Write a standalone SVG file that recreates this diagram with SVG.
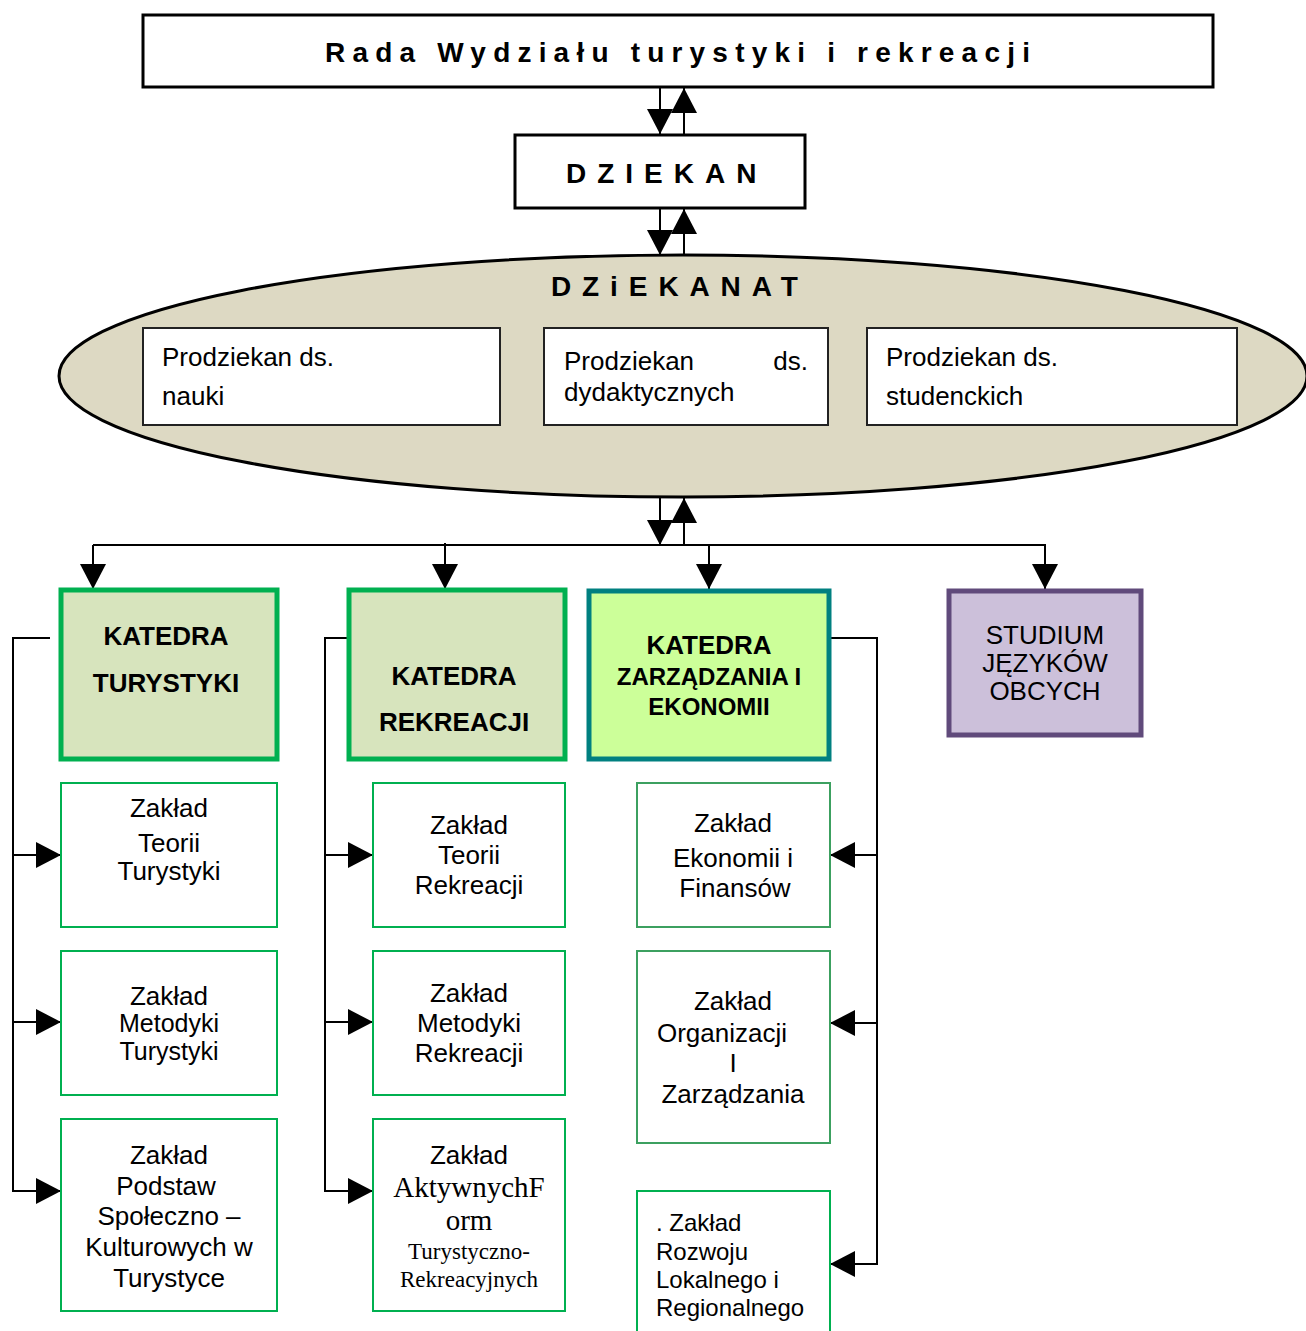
<svg xmlns="http://www.w3.org/2000/svg" width="1306" height="1331" viewBox="0 0 1306 1331">
<style>
text{font-family:"Liberation Sans",Arial,sans-serif;fill:#000}
.title{font-weight:bold;font-size:28px}
.pd{font-size:26px}
.kat{font-weight:bold;font-size:26px;text-anchor:middle}
.z{font-size:26px;text-anchor:middle}
.zb{fill:#fff;stroke:#00B050;stroke-width:2}
.conn{fill:none;stroke:#000;stroke-width:2}
.serif{font-family:"Liberation Serif","Times New Roman",serif}
</style>
<defs>
<marker id="ah" markerUnits="userSpaceOnUse" markerWidth="26" markerHeight="26" refX="25" refY="13" orient="auto">
<path d="M0,0 L25,13 L0,26 z" fill="#000"/>
</marker>
</defs>
<rect width="1306" height="1331" fill="#fff"/>

<g id="connectors" class="conn">
<line x1="660" y1="87" x2="660" y2="134" marker-end="url(#ah)"/>
<line x1="684" y1="135" x2="684" y2="88" marker-end="url(#ah)"/>
<line x1="660" y1="208" x2="660" y2="255" marker-end="url(#ah)"/>
<line x1="684" y1="256" x2="684" y2="209" marker-end="url(#ah)"/>
<line x1="660" y1="497" x2="660" y2="545" marker-end="url(#ah)"/>
<line x1="684" y1="545" x2="684" y2="498" marker-end="url(#ah)"/>
<path d="M93,545 H1045 V589" marker-end="url(#ah)"/>
<path d="M93,545 V589" marker-end="url(#ah)"/>
<path d="M445,543 V589" marker-end="url(#ah)"/>
<path d="M709,545 V589" marker-end="url(#ah)"/>
<path d="M50,638 H13 V1191 H61" marker-end="url(#ah)"/>
<line x1="13" y1="855" x2="61" y2="855" marker-end="url(#ah)"/>
<line x1="13" y1="1022" x2="61" y2="1022" marker-end="url(#ah)"/>
<path d="M348,638 H325 V1191 H373" marker-end="url(#ah)"/>
<line x1="325" y1="855" x2="373" y2="855" marker-end="url(#ah)"/>
<line x1="325" y1="1022" x2="373" y2="1022" marker-end="url(#ah)"/>
<path d="M830,638 H877 V1264 H830" marker-end="url(#ah)"/>
<line x1="877" y1="855" x2="830" y2="855" marker-end="url(#ah)"/>
<line x1="877" y1="1023" x2="830" y2="1023" marker-end="url(#ah)"/>
</g>

<g id="rada">
<rect x="143" y="15" width="1070" height="72" fill="#fff" stroke="#000" stroke-width="3"/>
<text class="title" x="325" y="62" letter-spacing="7.2">Rada Wydziału turystyki i rekreacji</text>
</g>

<g id="dziekan">
<rect x="515" y="135" width="290" height="73" fill="#fff" stroke="#000" stroke-width="3"/>
<text class="title" x="566" y="183" letter-spacing="11">DZIEKAN</text>
</g>

<g id="dziekanat">
<ellipse cx="683" cy="376" rx="624" ry="121" fill="#DDD9C3" stroke="#000" stroke-width="3"/>
<text class="title" x="551" y="296" letter-spacing="10.9">DZiEKANAT</text>
</g>

<g id="prodziekan-nauki">
<rect x="143" y="328" width="357" height="97" fill="#fff" stroke="#222" stroke-width="2"/>
<text class="pd" x="162" y="366">Prodziekan ds.</text>
<text class="pd" x="162" y="405">nauki</text>
</g>

<g id="prodziekan-dydaktyczne">
<rect x="544" y="328" width="284" height="97" fill="#fff" stroke="#222" stroke-width="2"/>
<text class="pd" x="564" y="370">Prodziekan</text>
<text class="pd" x="808" y="370" text-anchor="end">ds.</text>
<text class="pd" x="564" y="401">dydaktycznych</text>
</g>

<g id="prodziekan-studenckie">
<rect x="867" y="328" width="370" height="97" fill="#fff" stroke="#222" stroke-width="2"/>
<text class="pd" x="886" y="366">Prodziekan ds.</text>
<text class="pd" x="886" y="405">studenckich</text>
</g>

<g id="katedra-turystyki">
<rect x="61" y="590" width="216" height="169" fill="#D7E4BD" stroke="#00B050" stroke-width="5"/>
<text class="kat" x="166" y="645">KATEDRA</text>
<text class="kat" x="166" y="692">TURYSTYKI</text>
</g>

<g id="katedra-rekreacji">
<rect x="349" y="590" width="216" height="169" fill="#D7E4BD" stroke="#00B050" stroke-width="5"/>
<text class="kat" x="454" y="685">KATEDRA</text>
<text class="kat" x="454" y="731">REKREACJI</text>
</g>

<g id="katedra-zarzadzania">
<rect x="589" y="591" width="240" height="168" fill="#CCFF99" stroke="#008080" stroke-width="5"/>
<text class="kat" x="709" y="654">KATEDRA</text>
<text class="kat" x="709" y="685" style="font-size:24px">ZARZĄDZANIA I</text>
<text class="kat" x="709" y="715" style="font-size:24px">EKONOMII</text>
</g>

<g id="studium">
<rect x="949" y="591" width="192" height="144" fill="#CCC0DA" stroke="#604A7B" stroke-width="5"/>
<text class="z" x="1045" y="644">STUDIUM</text>
<text class="z" x="1045" y="672">JĘZYKÓW</text>
<text class="z" x="1045" y="700">OBCYCH</text>
</g>

<g id="zaklad-teorii-turystyki">
<rect class="zb" x="61" y="783" width="216" height="144"/>
<text class="z" x="169" y="817">Zakład</text>
<text class="z" x="169" y="852">Teorii</text>
<text class="z" x="169" y="880">Turystyki</text>
</g>

<g id="zaklad-metodyki-turystyki">
<rect class="zb" x="61" y="951" width="216" height="144"/>
<text class="z" x="169" y="1005">Zakład</text>
<text class="z" x="169" y="1032" style="font-size:25px">Metodyki</text>
<text class="z" x="169" y="1060" style="font-size:25px">Turystyki</text>
</g>

<g id="zaklad-podstaw">
<rect class="zb" x="61" y="1119" width="216" height="192"/>
<text class="z" x="169" y="1164">Zakład</text>
<text class="z" x="166" y="1195">Podstaw</text>
<text class="z" x="169" y="1225">Społeczno –</text>
<text class="z" x="169" y="1256">Kulturowych w</text>
<text class="z" x="169" y="1287">Turystyce</text>
</g>

<g id="zaklad-teorii-rekreacji">
<rect class="zb" x="373" y="783" width="192" height="144"/>
<text class="z" x="469" y="834">Zakład</text>
<text class="z" x="469" y="864">Teorii</text>
<text class="z" x="469" y="894">Rekreacji</text>
</g>

<g id="zaklad-metodyki-rekreacji">
<rect class="zb" x="373" y="951" width="192" height="144"/>
<text class="z" x="469" y="1002">Zakład</text>
<text class="z" x="469" y="1032">Metodyki</text>
<text class="z" x="469" y="1062">Rekreacji</text>
</g>

<g id="zaklad-aktywnych-form">
<rect class="zb" x="373" y="1119" width="192" height="192"/>
<text class="z" x="469" y="1164">Zakład</text>
<text class="z serif" x="469" y="1197" style="font-size:29px">AktywnychF</text>
<text class="z serif" x="469" y="1230" style="font-size:29px">orm</text>
<text class="z serif" x="469" y="1259" style="font-size:23px">Turystyczno-</text>
<text class="z serif" x="469" y="1287" style="font-size:23px">Rekreacyjnych</text>
</g>

<g id="zaklad-ekonomii">
<rect class="zb" x="637" y="783" width="193" height="144" style="stroke:#3CA060"/>
<text class="z" x="733" y="832">Zakład</text>
<text class="z" x="733" y="867">Ekonomii i</text>
<text class="z" x="735" y="897">Finansów</text>
</g>

<g id="zaklad-organizacji">
<rect class="zb" x="637" y="951" width="193" height="192" style="stroke:#3CA060"/>
<text class="z" x="733" y="1010">Zakład</text>
<text class="z" x="722" y="1042">Organizacji</text>
<text class="z" x="733" y="1072">I</text>
<text class="z" x="733" y="1103">Zarządzania</text>
</g>

<g id="zaklad-rozwoju">
<rect class="zb" x="637" y="1191" width="193" height="150"/>
<text x="656" y="1231" style="font-size:24px">. Zakład</text>
<text x="656" y="1260" style="font-size:24px">Rozwoju</text>
<text x="656" y="1288" style="font-size:24px">Lokalnego i</text>
<text x="656" y="1316" style="font-size:24px">Regionalnego</text>
</g>
</svg>
